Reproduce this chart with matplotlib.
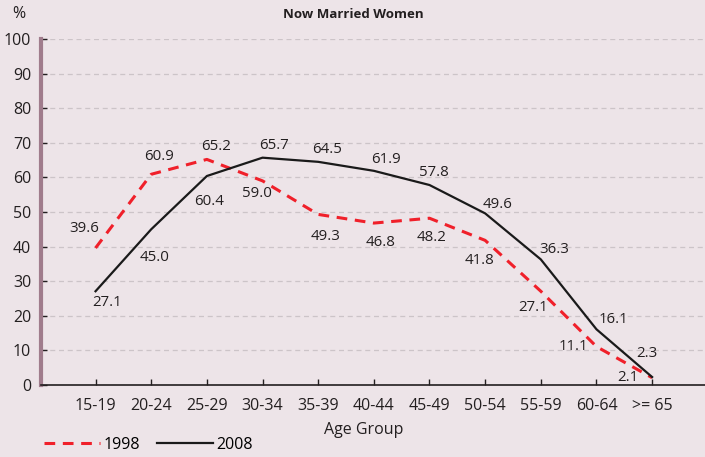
import numpy as np
import matplotlib.pyplot as plt

# datos
age_groups = ['15-19', '20-24', '25-29', '30-34', '35-39', '40-44',
              '45-49', '50-54', '55-59', '60-64', '>= 65']
y1998 = [39.6, 60.9, 65.2, 59.0, 49.3, 46.8, 48.2, 41.8, 27.1, 11.1, 2.1]
y2008 = [27.1, 45.0, 60.4, 65.7, 64.5, 61.9, 57.8, 49.6, 36.3, 16.1, 2.3]

# desplazamientos de las etiquetas (pixeles)
off1998 = [(-11, 19), (8, 18), (9, 13), (-6, -13), (7, -22), (7, -19),
           (2, -19), (-6, -20), (-8, -16), (-23, 0), (-24, 0)]
off2008 = [(12, -11), (3, -28), (2, -25), (11, 12), (9, 12), (12, 11),
           (4, 13), (12, 9), (13, 10), (17, 10), (-5, 24)]

bg = '#ede4e8'
plt.rcParams['font.family'] = ['Open Sans', 'DejaVu Sans']

fig = plt.figure(figsize=(7.05, 4.57), dpi=100, facecolor=bg)
ax = fig.add_axes([41 / 705, 1 - 385 / 457, 1 - 41 / 705, (385 - 39) / 457])
ax.set_facecolor(bg)

x = np.arange(len(age_groups))
ax.plot(x, y1998, color='#f0202a', lw=2.2, ls=(0, (3.5, 2.5)), label='1998', zorder=3)
ax.plot(x, y2008, color='#1a1a1a', lw=1.6, label='2008', zorder=3)

for xi, v, (dx, dy) in zip(x, y1998, off1998):
    ax.annotate(f'{v:.1f}', (xi, v), xytext=(dx, dy), textcoords='offset pixels',
                ha='center', va='center', fontsize=10.8, color='#231f20')
for xi, v, (dx, dy) in zip(x, y2008, off2008):
    ax.annotate(f'{v:.1f}', (xi, v), xytext=(dx, dy), textcoords='offset pixels',
                ha='center', va='center', fontsize=10.8, color='#231f20')

ax.set_xlim(-0.98, 10.95)
ax.set_ylim(0, 100)
ax.set_yticks(np.arange(0, 101, 10))
ax.set_xticks(x)
ax.set_xticklabels(age_groups)
ax.grid(axis='y', ls=(0, (4, 3)), color='#ccc4c8', lw=0.9)
ax.set_axisbelow(True)

for s in ['top', 'right']:
    ax.spines[s].set_visible(False)
ax.spines['left'].set_color('#a07c8c')
ax.spines['left'].set_linewidth(3)
ax.spines['bottom'].set_color('#231f20')
ax.spines['bottom'].set_linewidth(1.2)

ax.tick_params(axis='both', direction='in', length=4, width=1, color='#231f20',
               labelsize=11.5, labelcolor='#231f20')
ax.tick_params(axis='y', pad=7)
ax.tick_params(axis='x', pad=9)

fig.text(353 / 705, 1 - 14 / 457, 'Now Married Women', ha='center', va='center',
         fontsize=9.5, fontweight='bold', color='#231f20')
fig.text(19 / 705, 1 - 14 / 457, '%', ha='center', va='center', fontsize=11.5,
         color='#231f20')
fig.text(364 / 705, 1 - 430 / 457, 'Age Group', ha='center', va='center',
         fontsize=11.5, color='#231f20')

fig.legend(loc='center left', bbox_to_anchor=(44 / 705, 1 - 445 / 457), ncol=2,
           frameon=False, fontsize=11.5, handlelength=3.5, handletextpad=0.2,
           columnspacing=1.1, borderaxespad=0, borderpad=0)

fig.savefig('out.png', dpi=100, facecolor=bg)
